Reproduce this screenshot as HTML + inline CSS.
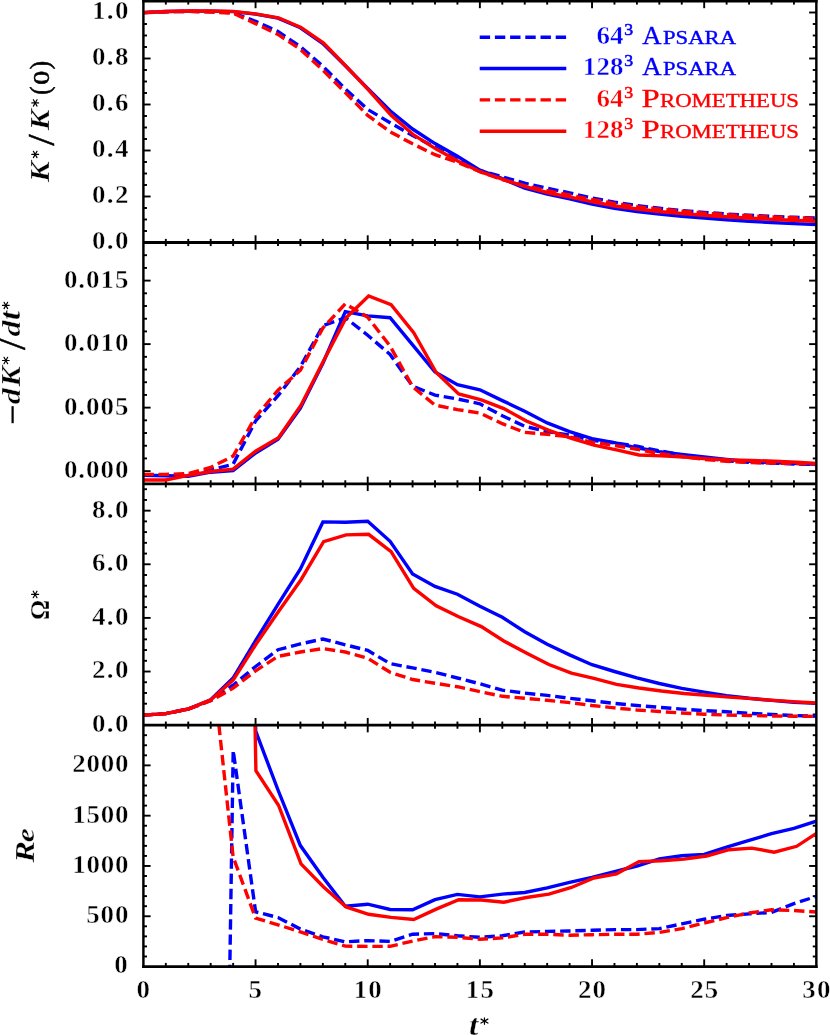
<!DOCTYPE html>
<html><head><meta charset="utf-8"><title>TGV</title>
<style>html,body{margin:0;padding:0;background:#fff;}svg{display:block;will-change:transform;}text{font-family:"Liberation Serif",serif;}</style></head><body>
<svg width="830" height="1035" viewBox="0 0 830 1035">
<rect x="0" y="0" width="830" height="1035" fill="#ffffff"/>
<defs>
<clipPath id="c1"><rect x="143.4" y="1.0" width="673.0" height="241.5"/></clipPath>
<clipPath id="c2"><rect x="143.4" y="242.5" width="673.0" height="241.4"/></clipPath>
<clipPath id="c3"><rect x="143.4" y="483.9" width="673.0" height="241.3"/></clipPath>
<clipPath id="c4"><rect x="143.4" y="725.1" width="673.0" height="241.4"/></clipPath>
</defs>
<g><line x1="165.83" y1="1.00" x2="165.83" y2="4.60" stroke="#000" stroke-width="1.90"/><line x1="188.26" y1="1.00" x2="188.26" y2="4.60" stroke="#000" stroke-width="1.90"/><line x1="210.69" y1="1.00" x2="210.69" y2="4.60" stroke="#000" stroke-width="1.90"/><line x1="233.13" y1="1.00" x2="233.13" y2="4.60" stroke="#000" stroke-width="1.90"/><line x1="255.56" y1="1.00" x2="255.56" y2="8.20" stroke="#000" stroke-width="1.90"/><line x1="277.99" y1="1.00" x2="277.99" y2="4.60" stroke="#000" stroke-width="1.90"/><line x1="300.42" y1="1.00" x2="300.42" y2="4.60" stroke="#000" stroke-width="1.90"/><line x1="322.85" y1="1.00" x2="322.85" y2="4.60" stroke="#000" stroke-width="1.90"/><line x1="345.29" y1="1.00" x2="345.29" y2="4.60" stroke="#000" stroke-width="1.90"/><line x1="367.72" y1="1.00" x2="367.72" y2="8.20" stroke="#000" stroke-width="1.90"/><line x1="390.15" y1="1.00" x2="390.15" y2="4.60" stroke="#000" stroke-width="1.90"/><line x1="412.58" y1="1.00" x2="412.58" y2="4.60" stroke="#000" stroke-width="1.90"/><line x1="435.01" y1="1.00" x2="435.01" y2="4.60" stroke="#000" stroke-width="1.90"/><line x1="457.44" y1="1.00" x2="457.44" y2="4.60" stroke="#000" stroke-width="1.90"/><line x1="479.88" y1="1.00" x2="479.88" y2="8.20" stroke="#000" stroke-width="1.90"/><line x1="502.31" y1="1.00" x2="502.31" y2="4.60" stroke="#000" stroke-width="1.90"/><line x1="524.74" y1="1.00" x2="524.74" y2="4.60" stroke="#000" stroke-width="1.90"/><line x1="547.17" y1="1.00" x2="547.17" y2="4.60" stroke="#000" stroke-width="1.90"/><line x1="569.60" y1="1.00" x2="569.60" y2="4.60" stroke="#000" stroke-width="1.90"/><line x1="592.03" y1="1.00" x2="592.03" y2="8.20" stroke="#000" stroke-width="1.90"/><line x1="614.47" y1="1.00" x2="614.47" y2="4.60" stroke="#000" stroke-width="1.90"/><line x1="636.90" y1="1.00" x2="636.90" y2="4.60" stroke="#000" stroke-width="1.90"/><line x1="659.33" y1="1.00" x2="659.33" y2="4.60" stroke="#000" stroke-width="1.90"/><line x1="681.76" y1="1.00" x2="681.76" y2="4.60" stroke="#000" stroke-width="1.90"/><line x1="704.19" y1="1.00" x2="704.19" y2="8.20" stroke="#000" stroke-width="1.90"/><line x1="726.62" y1="1.00" x2="726.62" y2="4.60" stroke="#000" stroke-width="1.90"/><line x1="749.06" y1="1.00" x2="749.06" y2="4.60" stroke="#000" stroke-width="1.90"/><line x1="771.49" y1="1.00" x2="771.49" y2="4.60" stroke="#000" stroke-width="1.90"/><line x1="793.92" y1="1.00" x2="793.92" y2="4.60" stroke="#000" stroke-width="1.90"/><line x1="165.83" y1="238.90" x2="165.83" y2="246.10" stroke="#000" stroke-width="1.90"/><line x1="188.26" y1="238.90" x2="188.26" y2="246.10" stroke="#000" stroke-width="1.90"/><line x1="210.69" y1="238.90" x2="210.69" y2="246.10" stroke="#000" stroke-width="1.90"/><line x1="233.13" y1="238.90" x2="233.13" y2="246.10" stroke="#000" stroke-width="1.90"/><line x1="255.56" y1="235.30" x2="255.56" y2="249.70" stroke="#000" stroke-width="1.90"/><line x1="277.99" y1="238.90" x2="277.99" y2="246.10" stroke="#000" stroke-width="1.90"/><line x1="300.42" y1="238.90" x2="300.42" y2="246.10" stroke="#000" stroke-width="1.90"/><line x1="322.85" y1="238.90" x2="322.85" y2="246.10" stroke="#000" stroke-width="1.90"/><line x1="345.29" y1="238.90" x2="345.29" y2="246.10" stroke="#000" stroke-width="1.90"/><line x1="367.72" y1="235.30" x2="367.72" y2="249.70" stroke="#000" stroke-width="1.90"/><line x1="390.15" y1="238.90" x2="390.15" y2="246.10" stroke="#000" stroke-width="1.90"/><line x1="412.58" y1="238.90" x2="412.58" y2="246.10" stroke="#000" stroke-width="1.90"/><line x1="435.01" y1="238.90" x2="435.01" y2="246.10" stroke="#000" stroke-width="1.90"/><line x1="457.44" y1="238.90" x2="457.44" y2="246.10" stroke="#000" stroke-width="1.90"/><line x1="479.88" y1="235.30" x2="479.88" y2="249.70" stroke="#000" stroke-width="1.90"/><line x1="502.31" y1="238.90" x2="502.31" y2="246.10" stroke="#000" stroke-width="1.90"/><line x1="524.74" y1="238.90" x2="524.74" y2="246.10" stroke="#000" stroke-width="1.90"/><line x1="547.17" y1="238.90" x2="547.17" y2="246.10" stroke="#000" stroke-width="1.90"/><line x1="569.60" y1="238.90" x2="569.60" y2="246.10" stroke="#000" stroke-width="1.90"/><line x1="592.03" y1="235.30" x2="592.03" y2="249.70" stroke="#000" stroke-width="1.90"/><line x1="614.47" y1="238.90" x2="614.47" y2="246.10" stroke="#000" stroke-width="1.90"/><line x1="636.90" y1="238.90" x2="636.90" y2="246.10" stroke="#000" stroke-width="1.90"/><line x1="659.33" y1="238.90" x2="659.33" y2="246.10" stroke="#000" stroke-width="1.90"/><line x1="681.76" y1="238.90" x2="681.76" y2="246.10" stroke="#000" stroke-width="1.90"/><line x1="704.19" y1="235.30" x2="704.19" y2="249.70" stroke="#000" stroke-width="1.90"/><line x1="726.62" y1="238.90" x2="726.62" y2="246.10" stroke="#000" stroke-width="1.90"/><line x1="749.06" y1="238.90" x2="749.06" y2="246.10" stroke="#000" stroke-width="1.90"/><line x1="771.49" y1="238.90" x2="771.49" y2="246.10" stroke="#000" stroke-width="1.90"/><line x1="793.92" y1="238.90" x2="793.92" y2="246.10" stroke="#000" stroke-width="1.90"/><line x1="165.83" y1="480.25" x2="165.83" y2="487.45" stroke="#000" stroke-width="1.90"/><line x1="188.26" y1="480.25" x2="188.26" y2="487.45" stroke="#000" stroke-width="1.90"/><line x1="210.69" y1="480.25" x2="210.69" y2="487.45" stroke="#000" stroke-width="1.90"/><line x1="233.13" y1="480.25" x2="233.13" y2="487.45" stroke="#000" stroke-width="1.90"/><line x1="255.56" y1="476.65" x2="255.56" y2="491.05" stroke="#000" stroke-width="1.90"/><line x1="277.99" y1="480.25" x2="277.99" y2="487.45" stroke="#000" stroke-width="1.90"/><line x1="300.42" y1="480.25" x2="300.42" y2="487.45" stroke="#000" stroke-width="1.90"/><line x1="322.85" y1="480.25" x2="322.85" y2="487.45" stroke="#000" stroke-width="1.90"/><line x1="345.29" y1="480.25" x2="345.29" y2="487.45" stroke="#000" stroke-width="1.90"/><line x1="367.72" y1="476.65" x2="367.72" y2="491.05" stroke="#000" stroke-width="1.90"/><line x1="390.15" y1="480.25" x2="390.15" y2="487.45" stroke="#000" stroke-width="1.90"/><line x1="412.58" y1="480.25" x2="412.58" y2="487.45" stroke="#000" stroke-width="1.90"/><line x1="435.01" y1="480.25" x2="435.01" y2="487.45" stroke="#000" stroke-width="1.90"/><line x1="457.44" y1="480.25" x2="457.44" y2="487.45" stroke="#000" stroke-width="1.90"/><line x1="479.88" y1="476.65" x2="479.88" y2="491.05" stroke="#000" stroke-width="1.90"/><line x1="502.31" y1="480.25" x2="502.31" y2="487.45" stroke="#000" stroke-width="1.90"/><line x1="524.74" y1="480.25" x2="524.74" y2="487.45" stroke="#000" stroke-width="1.90"/><line x1="547.17" y1="480.25" x2="547.17" y2="487.45" stroke="#000" stroke-width="1.90"/><line x1="569.60" y1="480.25" x2="569.60" y2="487.45" stroke="#000" stroke-width="1.90"/><line x1="592.03" y1="476.65" x2="592.03" y2="491.05" stroke="#000" stroke-width="1.90"/><line x1="614.47" y1="480.25" x2="614.47" y2="487.45" stroke="#000" stroke-width="1.90"/><line x1="636.90" y1="480.25" x2="636.90" y2="487.45" stroke="#000" stroke-width="1.90"/><line x1="659.33" y1="480.25" x2="659.33" y2="487.45" stroke="#000" stroke-width="1.90"/><line x1="681.76" y1="480.25" x2="681.76" y2="487.45" stroke="#000" stroke-width="1.90"/><line x1="704.19" y1="476.65" x2="704.19" y2="491.05" stroke="#000" stroke-width="1.90"/><line x1="726.62" y1="480.25" x2="726.62" y2="487.45" stroke="#000" stroke-width="1.90"/><line x1="749.06" y1="480.25" x2="749.06" y2="487.45" stroke="#000" stroke-width="1.90"/><line x1="771.49" y1="480.25" x2="771.49" y2="487.45" stroke="#000" stroke-width="1.90"/><line x1="793.92" y1="480.25" x2="793.92" y2="487.45" stroke="#000" stroke-width="1.90"/><line x1="165.83" y1="721.55" x2="165.83" y2="728.75" stroke="#000" stroke-width="1.90"/><line x1="188.26" y1="721.55" x2="188.26" y2="728.75" stroke="#000" stroke-width="1.90"/><line x1="210.69" y1="721.55" x2="210.69" y2="728.75" stroke="#000" stroke-width="1.90"/><line x1="233.13" y1="721.55" x2="233.13" y2="728.75" stroke="#000" stroke-width="1.90"/><line x1="255.56" y1="717.95" x2="255.56" y2="732.35" stroke="#000" stroke-width="1.90"/><line x1="277.99" y1="721.55" x2="277.99" y2="728.75" stroke="#000" stroke-width="1.90"/><line x1="300.42" y1="721.55" x2="300.42" y2="728.75" stroke="#000" stroke-width="1.90"/><line x1="322.85" y1="721.55" x2="322.85" y2="728.75" stroke="#000" stroke-width="1.90"/><line x1="345.29" y1="721.55" x2="345.29" y2="728.75" stroke="#000" stroke-width="1.90"/><line x1="367.72" y1="717.95" x2="367.72" y2="732.35" stroke="#000" stroke-width="1.90"/><line x1="390.15" y1="721.55" x2="390.15" y2="728.75" stroke="#000" stroke-width="1.90"/><line x1="412.58" y1="721.55" x2="412.58" y2="728.75" stroke="#000" stroke-width="1.90"/><line x1="435.01" y1="721.55" x2="435.01" y2="728.75" stroke="#000" stroke-width="1.90"/><line x1="457.44" y1="721.55" x2="457.44" y2="728.75" stroke="#000" stroke-width="1.90"/><line x1="479.88" y1="717.95" x2="479.88" y2="732.35" stroke="#000" stroke-width="1.90"/><line x1="502.31" y1="721.55" x2="502.31" y2="728.75" stroke="#000" stroke-width="1.90"/><line x1="524.74" y1="721.55" x2="524.74" y2="728.75" stroke="#000" stroke-width="1.90"/><line x1="547.17" y1="721.55" x2="547.17" y2="728.75" stroke="#000" stroke-width="1.90"/><line x1="569.60" y1="721.55" x2="569.60" y2="728.75" stroke="#000" stroke-width="1.90"/><line x1="592.03" y1="717.95" x2="592.03" y2="732.35" stroke="#000" stroke-width="1.90"/><line x1="614.47" y1="721.55" x2="614.47" y2="728.75" stroke="#000" stroke-width="1.90"/><line x1="636.90" y1="721.55" x2="636.90" y2="728.75" stroke="#000" stroke-width="1.90"/><line x1="659.33" y1="721.55" x2="659.33" y2="728.75" stroke="#000" stroke-width="1.90"/><line x1="681.76" y1="721.55" x2="681.76" y2="728.75" stroke="#000" stroke-width="1.90"/><line x1="704.19" y1="717.95" x2="704.19" y2="732.35" stroke="#000" stroke-width="1.90"/><line x1="726.62" y1="721.55" x2="726.62" y2="728.75" stroke="#000" stroke-width="1.90"/><line x1="749.06" y1="721.55" x2="749.06" y2="728.75" stroke="#000" stroke-width="1.90"/><line x1="771.49" y1="721.55" x2="771.49" y2="728.75" stroke="#000" stroke-width="1.90"/><line x1="793.92" y1="721.55" x2="793.92" y2="728.75" stroke="#000" stroke-width="1.90"/><line x1="165.83" y1="962.95" x2="165.83" y2="966.55" stroke="#000" stroke-width="1.90"/><line x1="188.26" y1="962.95" x2="188.26" y2="966.55" stroke="#000" stroke-width="1.90"/><line x1="210.69" y1="962.95" x2="210.69" y2="966.55" stroke="#000" stroke-width="1.90"/><line x1="233.13" y1="962.95" x2="233.13" y2="966.55" stroke="#000" stroke-width="1.90"/><line x1="255.56" y1="959.35" x2="255.56" y2="966.55" stroke="#000" stroke-width="1.90"/><line x1="277.99" y1="962.95" x2="277.99" y2="966.55" stroke="#000" stroke-width="1.90"/><line x1="300.42" y1="962.95" x2="300.42" y2="966.55" stroke="#000" stroke-width="1.90"/><line x1="322.85" y1="962.95" x2="322.85" y2="966.55" stroke="#000" stroke-width="1.90"/><line x1="345.29" y1="962.95" x2="345.29" y2="966.55" stroke="#000" stroke-width="1.90"/><line x1="367.72" y1="959.35" x2="367.72" y2="966.55" stroke="#000" stroke-width="1.90"/><line x1="390.15" y1="962.95" x2="390.15" y2="966.55" stroke="#000" stroke-width="1.90"/><line x1="412.58" y1="962.95" x2="412.58" y2="966.55" stroke="#000" stroke-width="1.90"/><line x1="435.01" y1="962.95" x2="435.01" y2="966.55" stroke="#000" stroke-width="1.90"/><line x1="457.44" y1="962.95" x2="457.44" y2="966.55" stroke="#000" stroke-width="1.90"/><line x1="479.88" y1="959.35" x2="479.88" y2="966.55" stroke="#000" stroke-width="1.90"/><line x1="502.31" y1="962.95" x2="502.31" y2="966.55" stroke="#000" stroke-width="1.90"/><line x1="524.74" y1="962.95" x2="524.74" y2="966.55" stroke="#000" stroke-width="1.90"/><line x1="547.17" y1="962.95" x2="547.17" y2="966.55" stroke="#000" stroke-width="1.90"/><line x1="569.60" y1="962.95" x2="569.60" y2="966.55" stroke="#000" stroke-width="1.90"/><line x1="592.03" y1="959.35" x2="592.03" y2="966.55" stroke="#000" stroke-width="1.90"/><line x1="614.47" y1="962.95" x2="614.47" y2="966.55" stroke="#000" stroke-width="1.90"/><line x1="636.90" y1="962.95" x2="636.90" y2="966.55" stroke="#000" stroke-width="1.90"/><line x1="659.33" y1="962.95" x2="659.33" y2="966.55" stroke="#000" stroke-width="1.90"/><line x1="681.76" y1="962.95" x2="681.76" y2="966.55" stroke="#000" stroke-width="1.90"/><line x1="704.19" y1="959.35" x2="704.19" y2="966.55" stroke="#000" stroke-width="1.90"/><line x1="726.62" y1="962.95" x2="726.62" y2="966.55" stroke="#000" stroke-width="1.90"/><line x1="749.06" y1="962.95" x2="749.06" y2="966.55" stroke="#000" stroke-width="1.90"/><line x1="771.49" y1="962.95" x2="771.49" y2="966.55" stroke="#000" stroke-width="1.90"/><line x1="793.92" y1="962.95" x2="793.92" y2="966.55" stroke="#000" stroke-width="1.90"/><line x1="143.40" y1="231.00" x2="147.00" y2="231.00" stroke="#000" stroke-width="1.90"/><line x1="812.75" y1="231.00" x2="816.35" y2="231.00" stroke="#000" stroke-width="1.90"/><line x1="143.40" y1="219.50" x2="147.00" y2="219.50" stroke="#000" stroke-width="1.90"/><line x1="812.75" y1="219.50" x2="816.35" y2="219.50" stroke="#000" stroke-width="1.90"/><line x1="143.40" y1="208.00" x2="147.00" y2="208.00" stroke="#000" stroke-width="1.90"/><line x1="812.75" y1="208.00" x2="816.35" y2="208.00" stroke="#000" stroke-width="1.90"/><line x1="143.40" y1="196.50" x2="150.60" y2="196.50" stroke="#000" stroke-width="1.90"/><line x1="809.15" y1="196.50" x2="816.35" y2="196.50" stroke="#000" stroke-width="1.90"/><line x1="143.40" y1="185.00" x2="147.00" y2="185.00" stroke="#000" stroke-width="1.90"/><line x1="812.75" y1="185.00" x2="816.35" y2="185.00" stroke="#000" stroke-width="1.90"/><line x1="143.40" y1="173.50" x2="147.00" y2="173.50" stroke="#000" stroke-width="1.90"/><line x1="812.75" y1="173.50" x2="816.35" y2="173.50" stroke="#000" stroke-width="1.90"/><line x1="143.40" y1="162.00" x2="147.00" y2="162.00" stroke="#000" stroke-width="1.90"/><line x1="812.75" y1="162.00" x2="816.35" y2="162.00" stroke="#000" stroke-width="1.90"/><line x1="143.40" y1="150.50" x2="150.60" y2="150.50" stroke="#000" stroke-width="1.90"/><line x1="809.15" y1="150.50" x2="816.35" y2="150.50" stroke="#000" stroke-width="1.90"/><line x1="143.40" y1="139.00" x2="147.00" y2="139.00" stroke="#000" stroke-width="1.90"/><line x1="812.75" y1="139.00" x2="816.35" y2="139.00" stroke="#000" stroke-width="1.90"/><line x1="143.40" y1="127.50" x2="147.00" y2="127.50" stroke="#000" stroke-width="1.90"/><line x1="812.75" y1="127.50" x2="816.35" y2="127.50" stroke="#000" stroke-width="1.90"/><line x1="143.40" y1="116.00" x2="147.00" y2="116.00" stroke="#000" stroke-width="1.90"/><line x1="812.75" y1="116.00" x2="816.35" y2="116.00" stroke="#000" stroke-width="1.90"/><line x1="143.40" y1="104.50" x2="150.60" y2="104.50" stroke="#000" stroke-width="1.90"/><line x1="809.15" y1="104.50" x2="816.35" y2="104.50" stroke="#000" stroke-width="1.90"/><line x1="143.40" y1="93.00" x2="147.00" y2="93.00" stroke="#000" stroke-width="1.90"/><line x1="812.75" y1="93.00" x2="816.35" y2="93.00" stroke="#000" stroke-width="1.90"/><line x1="143.40" y1="81.50" x2="147.00" y2="81.50" stroke="#000" stroke-width="1.90"/><line x1="812.75" y1="81.50" x2="816.35" y2="81.50" stroke="#000" stroke-width="1.90"/><line x1="143.40" y1="70.00" x2="147.00" y2="70.00" stroke="#000" stroke-width="1.90"/><line x1="812.75" y1="70.00" x2="816.35" y2="70.00" stroke="#000" stroke-width="1.90"/><line x1="143.40" y1="58.50" x2="150.60" y2="58.50" stroke="#000" stroke-width="1.90"/><line x1="809.15" y1="58.50" x2="816.35" y2="58.50" stroke="#000" stroke-width="1.90"/><line x1="143.40" y1="47.00" x2="147.00" y2="47.00" stroke="#000" stroke-width="1.90"/><line x1="812.75" y1="47.00" x2="816.35" y2="47.00" stroke="#000" stroke-width="1.90"/><line x1="143.40" y1="35.50" x2="147.00" y2="35.50" stroke="#000" stroke-width="1.90"/><line x1="812.75" y1="35.50" x2="816.35" y2="35.50" stroke="#000" stroke-width="1.90"/><line x1="143.40" y1="24.00" x2="147.00" y2="24.00" stroke="#000" stroke-width="1.90"/><line x1="812.75" y1="24.00" x2="816.35" y2="24.00" stroke="#000" stroke-width="1.90"/><line x1="143.40" y1="12.50" x2="150.60" y2="12.50" stroke="#000" stroke-width="1.90"/><line x1="809.15" y1="12.50" x2="816.35" y2="12.50" stroke="#000" stroke-width="1.90"/><line x1="143.40" y1="471.15" x2="150.60" y2="471.15" stroke="#000" stroke-width="1.90"/><line x1="809.15" y1="471.15" x2="816.35" y2="471.15" stroke="#000" stroke-width="1.90"/><line x1="143.40" y1="458.44" x2="147.00" y2="458.44" stroke="#000" stroke-width="1.90"/><line x1="812.75" y1="458.44" x2="816.35" y2="458.44" stroke="#000" stroke-width="1.90"/><line x1="143.40" y1="445.74" x2="147.00" y2="445.74" stroke="#000" stroke-width="1.90"/><line x1="812.75" y1="445.74" x2="816.35" y2="445.74" stroke="#000" stroke-width="1.90"/><line x1="143.40" y1="433.04" x2="147.00" y2="433.04" stroke="#000" stroke-width="1.90"/><line x1="812.75" y1="433.04" x2="816.35" y2="433.04" stroke="#000" stroke-width="1.90"/><line x1="143.40" y1="420.34" x2="147.00" y2="420.34" stroke="#000" stroke-width="1.90"/><line x1="812.75" y1="420.34" x2="816.35" y2="420.34" stroke="#000" stroke-width="1.90"/><line x1="143.40" y1="407.63" x2="150.60" y2="407.63" stroke="#000" stroke-width="1.90"/><line x1="809.15" y1="407.63" x2="816.35" y2="407.63" stroke="#000" stroke-width="1.90"/><line x1="143.40" y1="394.93" x2="147.00" y2="394.93" stroke="#000" stroke-width="1.90"/><line x1="812.75" y1="394.93" x2="816.35" y2="394.93" stroke="#000" stroke-width="1.90"/><line x1="143.40" y1="382.23" x2="147.00" y2="382.23" stroke="#000" stroke-width="1.90"/><line x1="812.75" y1="382.23" x2="816.35" y2="382.23" stroke="#000" stroke-width="1.90"/><line x1="143.40" y1="369.53" x2="147.00" y2="369.53" stroke="#000" stroke-width="1.90"/><line x1="812.75" y1="369.53" x2="816.35" y2="369.53" stroke="#000" stroke-width="1.90"/><line x1="143.40" y1="356.82" x2="147.00" y2="356.82" stroke="#000" stroke-width="1.90"/><line x1="812.75" y1="356.82" x2="816.35" y2="356.82" stroke="#000" stroke-width="1.90"/><line x1="143.40" y1="344.12" x2="150.60" y2="344.12" stroke="#000" stroke-width="1.90"/><line x1="809.15" y1="344.12" x2="816.35" y2="344.12" stroke="#000" stroke-width="1.90"/><line x1="143.40" y1="331.42" x2="147.00" y2="331.42" stroke="#000" stroke-width="1.90"/><line x1="812.75" y1="331.42" x2="816.35" y2="331.42" stroke="#000" stroke-width="1.90"/><line x1="143.40" y1="318.72" x2="147.00" y2="318.72" stroke="#000" stroke-width="1.90"/><line x1="812.75" y1="318.72" x2="816.35" y2="318.72" stroke="#000" stroke-width="1.90"/><line x1="143.40" y1="306.01" x2="147.00" y2="306.01" stroke="#000" stroke-width="1.90"/><line x1="812.75" y1="306.01" x2="816.35" y2="306.01" stroke="#000" stroke-width="1.90"/><line x1="143.40" y1="293.31" x2="147.00" y2="293.31" stroke="#000" stroke-width="1.90"/><line x1="812.75" y1="293.31" x2="816.35" y2="293.31" stroke="#000" stroke-width="1.90"/><line x1="143.40" y1="280.61" x2="150.60" y2="280.61" stroke="#000" stroke-width="1.90"/><line x1="809.15" y1="280.61" x2="816.35" y2="280.61" stroke="#000" stroke-width="1.90"/><line x1="143.40" y1="267.91" x2="147.00" y2="267.91" stroke="#000" stroke-width="1.90"/><line x1="812.75" y1="267.91" x2="816.35" y2="267.91" stroke="#000" stroke-width="1.90"/><line x1="143.40" y1="255.20" x2="147.00" y2="255.20" stroke="#000" stroke-width="1.90"/><line x1="812.75" y1="255.20" x2="816.35" y2="255.20" stroke="#000" stroke-width="1.90"/><line x1="143.40" y1="714.43" x2="147.00" y2="714.43" stroke="#000" stroke-width="1.90"/><line x1="812.75" y1="714.43" x2="816.35" y2="714.43" stroke="#000" stroke-width="1.90"/><line x1="143.40" y1="703.70" x2="147.00" y2="703.70" stroke="#000" stroke-width="1.90"/><line x1="812.75" y1="703.70" x2="816.35" y2="703.70" stroke="#000" stroke-width="1.90"/><line x1="143.40" y1="692.98" x2="147.00" y2="692.98" stroke="#000" stroke-width="1.90"/><line x1="812.75" y1="692.98" x2="816.35" y2="692.98" stroke="#000" stroke-width="1.90"/><line x1="143.40" y1="682.25" x2="147.00" y2="682.25" stroke="#000" stroke-width="1.90"/><line x1="812.75" y1="682.25" x2="816.35" y2="682.25" stroke="#000" stroke-width="1.90"/><line x1="143.40" y1="671.53" x2="150.60" y2="671.53" stroke="#000" stroke-width="1.90"/><line x1="809.15" y1="671.53" x2="816.35" y2="671.53" stroke="#000" stroke-width="1.90"/><line x1="143.40" y1="660.80" x2="147.00" y2="660.80" stroke="#000" stroke-width="1.90"/><line x1="812.75" y1="660.80" x2="816.35" y2="660.80" stroke="#000" stroke-width="1.90"/><line x1="143.40" y1="650.08" x2="147.00" y2="650.08" stroke="#000" stroke-width="1.90"/><line x1="812.75" y1="650.08" x2="816.35" y2="650.08" stroke="#000" stroke-width="1.90"/><line x1="143.40" y1="639.35" x2="147.00" y2="639.35" stroke="#000" stroke-width="1.90"/><line x1="812.75" y1="639.35" x2="816.35" y2="639.35" stroke="#000" stroke-width="1.90"/><line x1="143.40" y1="628.63" x2="147.00" y2="628.63" stroke="#000" stroke-width="1.90"/><line x1="812.75" y1="628.63" x2="816.35" y2="628.63" stroke="#000" stroke-width="1.90"/><line x1="143.40" y1="617.91" x2="150.60" y2="617.91" stroke="#000" stroke-width="1.90"/><line x1="809.15" y1="617.91" x2="816.35" y2="617.91" stroke="#000" stroke-width="1.90"/><line x1="143.40" y1="607.18" x2="147.00" y2="607.18" stroke="#000" stroke-width="1.90"/><line x1="812.75" y1="607.18" x2="816.35" y2="607.18" stroke="#000" stroke-width="1.90"/><line x1="143.40" y1="596.46" x2="147.00" y2="596.46" stroke="#000" stroke-width="1.90"/><line x1="812.75" y1="596.46" x2="816.35" y2="596.46" stroke="#000" stroke-width="1.90"/><line x1="143.40" y1="585.73" x2="147.00" y2="585.73" stroke="#000" stroke-width="1.90"/><line x1="812.75" y1="585.73" x2="816.35" y2="585.73" stroke="#000" stroke-width="1.90"/><line x1="143.40" y1="575.01" x2="147.00" y2="575.01" stroke="#000" stroke-width="1.90"/><line x1="812.75" y1="575.01" x2="816.35" y2="575.01" stroke="#000" stroke-width="1.90"/><line x1="143.40" y1="564.28" x2="150.60" y2="564.28" stroke="#000" stroke-width="1.90"/><line x1="809.15" y1="564.28" x2="816.35" y2="564.28" stroke="#000" stroke-width="1.90"/><line x1="143.40" y1="553.56" x2="147.00" y2="553.56" stroke="#000" stroke-width="1.90"/><line x1="812.75" y1="553.56" x2="816.35" y2="553.56" stroke="#000" stroke-width="1.90"/><line x1="143.40" y1="542.83" x2="147.00" y2="542.83" stroke="#000" stroke-width="1.90"/><line x1="812.75" y1="542.83" x2="816.35" y2="542.83" stroke="#000" stroke-width="1.90"/><line x1="143.40" y1="532.11" x2="147.00" y2="532.11" stroke="#000" stroke-width="1.90"/><line x1="812.75" y1="532.11" x2="816.35" y2="532.11" stroke="#000" stroke-width="1.90"/><line x1="143.40" y1="521.39" x2="147.00" y2="521.39" stroke="#000" stroke-width="1.90"/><line x1="812.75" y1="521.39" x2="816.35" y2="521.39" stroke="#000" stroke-width="1.90"/><line x1="143.40" y1="510.66" x2="150.60" y2="510.66" stroke="#000" stroke-width="1.90"/><line x1="809.15" y1="510.66" x2="816.35" y2="510.66" stroke="#000" stroke-width="1.90"/><line x1="143.40" y1="499.94" x2="147.00" y2="499.94" stroke="#000" stroke-width="1.90"/><line x1="812.75" y1="499.94" x2="816.35" y2="499.94" stroke="#000" stroke-width="1.90"/><line x1="143.40" y1="489.21" x2="147.00" y2="489.21" stroke="#000" stroke-width="1.90"/><line x1="812.75" y1="489.21" x2="816.35" y2="489.21" stroke="#000" stroke-width="1.90"/><line x1="143.40" y1="956.49" x2="147.00" y2="956.49" stroke="#000" stroke-width="1.90"/><line x1="812.75" y1="956.49" x2="816.35" y2="956.49" stroke="#000" stroke-width="1.90"/><line x1="143.40" y1="946.43" x2="147.00" y2="946.43" stroke="#000" stroke-width="1.90"/><line x1="812.75" y1="946.43" x2="816.35" y2="946.43" stroke="#000" stroke-width="1.90"/><line x1="143.40" y1="936.38" x2="147.00" y2="936.38" stroke="#000" stroke-width="1.90"/><line x1="812.75" y1="936.38" x2="816.35" y2="936.38" stroke="#000" stroke-width="1.90"/><line x1="143.40" y1="926.32" x2="147.00" y2="926.32" stroke="#000" stroke-width="1.90"/><line x1="812.75" y1="926.32" x2="816.35" y2="926.32" stroke="#000" stroke-width="1.90"/><line x1="143.40" y1="916.26" x2="150.60" y2="916.26" stroke="#000" stroke-width="1.90"/><line x1="809.15" y1="916.26" x2="816.35" y2="916.26" stroke="#000" stroke-width="1.90"/><line x1="143.40" y1="906.20" x2="147.00" y2="906.20" stroke="#000" stroke-width="1.90"/><line x1="812.75" y1="906.20" x2="816.35" y2="906.20" stroke="#000" stroke-width="1.90"/><line x1="143.40" y1="896.14" x2="147.00" y2="896.14" stroke="#000" stroke-width="1.90"/><line x1="812.75" y1="896.14" x2="816.35" y2="896.14" stroke="#000" stroke-width="1.90"/><line x1="143.40" y1="886.08" x2="147.00" y2="886.08" stroke="#000" stroke-width="1.90"/><line x1="812.75" y1="886.08" x2="816.35" y2="886.08" stroke="#000" stroke-width="1.90"/><line x1="143.40" y1="876.02" x2="147.00" y2="876.02" stroke="#000" stroke-width="1.90"/><line x1="812.75" y1="876.02" x2="816.35" y2="876.02" stroke="#000" stroke-width="1.90"/><line x1="143.40" y1="865.97" x2="150.60" y2="865.97" stroke="#000" stroke-width="1.90"/><line x1="809.15" y1="865.97" x2="816.35" y2="865.97" stroke="#000" stroke-width="1.90"/><line x1="143.40" y1="855.91" x2="147.00" y2="855.91" stroke="#000" stroke-width="1.90"/><line x1="812.75" y1="855.91" x2="816.35" y2="855.91" stroke="#000" stroke-width="1.90"/><line x1="143.40" y1="845.85" x2="147.00" y2="845.85" stroke="#000" stroke-width="1.90"/><line x1="812.75" y1="845.85" x2="816.35" y2="845.85" stroke="#000" stroke-width="1.90"/><line x1="143.40" y1="835.79" x2="147.00" y2="835.79" stroke="#000" stroke-width="1.90"/><line x1="812.75" y1="835.79" x2="816.35" y2="835.79" stroke="#000" stroke-width="1.90"/><line x1="143.40" y1="825.73" x2="147.00" y2="825.73" stroke="#000" stroke-width="1.90"/><line x1="812.75" y1="825.73" x2="816.35" y2="825.73" stroke="#000" stroke-width="1.90"/><line x1="143.40" y1="815.67" x2="150.60" y2="815.67" stroke="#000" stroke-width="1.90"/><line x1="809.15" y1="815.67" x2="816.35" y2="815.67" stroke="#000" stroke-width="1.90"/><line x1="143.40" y1="805.62" x2="147.00" y2="805.62" stroke="#000" stroke-width="1.90"/><line x1="812.75" y1="805.62" x2="816.35" y2="805.62" stroke="#000" stroke-width="1.90"/><line x1="143.40" y1="795.56" x2="147.00" y2="795.56" stroke="#000" stroke-width="1.90"/><line x1="812.75" y1="795.56" x2="816.35" y2="795.56" stroke="#000" stroke-width="1.90"/><line x1="143.40" y1="785.50" x2="147.00" y2="785.50" stroke="#000" stroke-width="1.90"/><line x1="812.75" y1="785.50" x2="816.35" y2="785.50" stroke="#000" stroke-width="1.90"/><line x1="143.40" y1="775.44" x2="147.00" y2="775.44" stroke="#000" stroke-width="1.90"/><line x1="812.75" y1="775.44" x2="816.35" y2="775.44" stroke="#000" stroke-width="1.90"/><line x1="143.40" y1="765.38" x2="150.60" y2="765.38" stroke="#000" stroke-width="1.90"/><line x1="809.15" y1="765.38" x2="816.35" y2="765.38" stroke="#000" stroke-width="1.90"/><line x1="143.40" y1="755.33" x2="147.00" y2="755.33" stroke="#000" stroke-width="1.90"/><line x1="812.75" y1="755.33" x2="816.35" y2="755.33" stroke="#000" stroke-width="1.90"/><line x1="143.40" y1="745.27" x2="147.00" y2="745.27" stroke="#000" stroke-width="1.90"/><line x1="812.75" y1="745.27" x2="816.35" y2="745.27" stroke="#000" stroke-width="1.90"/><line x1="143.40" y1="735.21" x2="147.00" y2="735.21" stroke="#000" stroke-width="1.90"/><line x1="812.75" y1="735.21" x2="816.35" y2="735.21" stroke="#000" stroke-width="1.90"/></g>
<polyline points="143.4,12.6 165.8,11.7 188.3,11.4 210.7,11.7 233.1,12.7 255.6,21.4 278.0,31.5 300.4,46.7 322.9,66.2 345.3,88.9 367.7,109.4 390.1,122.7 412.6,135.5 435.0,147.2 457.4,159.7 479.9,170.7 502.3,176.8 524.7,183.2 547.2,188.2 569.6,192.9 592.0,198.0 614.5,202.2 636.9,205.5 659.3,208.2 681.8,210.5 704.2,212.4 726.6,214.0 749.1,215.3 771.5,216.4 793.9,217.3 816.4,218.1" fill="none" stroke="#0000ff" stroke-width="3.40" stroke-linejoin="miter" stroke-linecap="butt" stroke-dasharray="10.4 4.8" clip-path="url(#c1)"/>
<polyline points="143.4,12.6 165.8,11.5 188.3,11.1 210.7,11.1 233.1,11.6 255.6,14.1 278.0,18.1 300.4,27.8 322.9,43.5 345.3,65.7 367.7,88.4 390.1,110.8 412.6,129.0 435.0,143.6 457.4,156.3 479.9,170.2 502.3,178.7 524.7,188.2 547.2,194.2 569.6,198.8 592.0,204.0 614.5,208.4 636.9,211.5 659.3,214.1 681.8,216.2 704.2,218.0 726.6,219.7 749.1,221.2 771.5,222.5 793.9,223.6 816.4,224.5" fill="none" stroke="#0000ff" stroke-width="3.40" stroke-linejoin="miter" stroke-linecap="butt" clip-path="url(#c1)"/>
<polyline points="143.4,12.6 165.8,11.7 188.3,11.4 210.7,12.0 233.1,13.2 255.6,23.6 278.0,34.4 300.4,49.4 322.9,70.2 345.3,92.5 367.7,115.4 390.1,131.8 412.6,143.8 435.0,154.7 457.4,162.2 479.9,171.7 502.3,179.7 524.7,185.7 547.2,190.6 569.6,195.0 592.0,199.5 614.5,203.5 636.9,206.6 659.3,209.1 681.8,211.2 704.2,213.1 726.6,214.6 749.1,215.8 771.5,216.8 793.9,217.7 816.4,218.5" fill="none" stroke="#ff0000" stroke-width="3.40" stroke-linejoin="miter" stroke-linecap="butt" stroke-dasharray="10.4 4.8" clip-path="url(#c1)"/>
<polyline points="143.4,12.6 165.8,11.5 188.3,11.0 210.7,11.0 233.1,11.4 255.6,13.9 278.5,17.8 301.0,27.4 323.6,43.1 346.1,66.2 368.6,90.1 391.1,115.2 413.7,135.0 436.2,149.1 458.7,161.6 481.3,172.2 503.8,179.7 526.3,186.9 548.9,193.0 571.4,197.4 593.9,202.2 616.5,206.2 639.0,209.2 661.5,211.7 684.1,213.8 706.6,215.5 729.1,217.0 751.7,218.3 774.2,219.5 796.7,220.5 819.2,221.4" fill="none" stroke="#ff0000" stroke-width="3.40" stroke-linejoin="miter" stroke-linecap="butt" clip-path="url(#c1)"/>
<polyline points="143.4,474.9 165.8,475.2 188.3,474.2 210.7,469.8 233.1,464.2 255.6,420.9 278.0,395.7 300.4,366.7 322.9,325.7 345.3,317.7 367.7,335.2 390.1,354.5 412.6,386.2 435.0,395.1 457.4,399.0 479.9,403.8 502.3,415.7 524.7,426.3 547.2,431.6 569.6,435.1 592.0,440.4 614.5,442.9 636.9,446.3 659.3,450.7 681.8,455.0 704.2,457.9 726.6,460.8 749.1,462.2 771.5,463.1 793.9,464.0 816.4,464.6" fill="none" stroke="#0000ff" stroke-width="3.40" stroke-linejoin="miter" stroke-linecap="butt" stroke-dasharray="10.4 4.8" clip-path="url(#c2)"/>
<polyline points="143.4,475.2 165.8,475.7 188.3,476.2 210.7,472.2 233.1,470.6 255.6,453.0 278.0,439.2 300.4,408.0 322.9,363.2 345.3,311.6 367.7,315.9 390.1,317.7 412.6,344.9 435.0,372.0 457.4,384.7 479.9,389.8 502.3,400.6 524.7,411.2 547.2,422.9 569.6,431.6 592.0,438.6 614.5,442.6 636.9,447.8 659.3,451.6 681.8,454.4 704.2,457.0 726.6,459.4 749.1,461.4 771.5,462.5 793.9,463.4 816.4,464.3" fill="none" stroke="#0000ff" stroke-width="3.40" stroke-linejoin="miter" stroke-linecap="butt" clip-path="url(#c2)"/>
<polyline points="143.4,474.4 165.8,474.4 188.3,473.5 210.7,467.4 233.1,456.1 255.6,416.8 278.0,390.2 300.4,370.2 322.9,328.0 345.3,303.8 367.7,317.2 390.1,346.1 412.6,386.7 435.0,405.1 457.4,409.6 479.9,413.1 502.3,423.7 524.7,432.4 547.2,434.3 569.6,436.9 592.0,442.2 614.5,445.5 636.9,449.2 659.3,453.6 681.8,456.5 704.2,459.4 726.6,461.4 749.1,462.5 771.5,463.1 793.9,463.4 816.4,464.0" fill="none" stroke="#ff0000" stroke-width="3.40" stroke-linejoin="miter" stroke-linecap="butt" stroke-dasharray="10.4 4.8" clip-path="url(#c2)"/>
<polyline points="143.4,480.0 165.8,480.0 188.3,475.4 210.7,471.5 233.1,469.1 255.6,451.2 278.5,437.8 301.0,405.2 323.6,360.8 346.1,317.7 368.6,296.0 391.1,304.7 413.7,332.7 436.2,372.5 458.7,394.0 481.3,399.8 503.8,408.6 526.3,421.0 548.9,430.3 571.4,438.3 593.9,445.2 616.5,449.8 639.0,455.0 661.5,455.9 684.1,457.0 706.6,458.8 729.1,459.9 751.7,460.5 774.2,461.1 796.7,462.2 819.2,463.7" fill="none" stroke="#ff0000" stroke-width="3.40" stroke-linejoin="miter" stroke-linecap="butt" clip-path="url(#c2)"/>
<polyline points="143.4,715.1 165.8,713.6 188.3,709.0 210.7,700.6 233.1,685.2 255.6,666.5 278.0,649.7 300.4,643.9 322.9,639.0 345.3,644.8 367.7,650.4 390.1,663.6 412.6,667.9 435.0,672.3 457.4,678.0 479.9,683.8 502.3,690.2 524.7,693.1 547.2,695.4 569.6,698.3 592.0,700.8 614.5,703.4 636.9,705.5 659.3,707.3 681.8,709.1 704.2,710.6 726.6,711.8 749.1,713.3 771.5,714.5 793.9,715.5 816.4,716.2" fill="none" stroke="#0000ff" stroke-width="3.40" stroke-linejoin="miter" stroke-linecap="butt" stroke-dasharray="10.4 4.8" clip-path="url(#c3)"/>
<polyline points="143.4,715.1 165.8,713.6 188.3,709.0 210.7,699.7 233.1,678.0 255.6,640.5 278.0,604.3 300.4,569.0 322.9,521.9 345.3,522.2 367.7,521.3 390.1,541.3 412.6,573.9 435.0,586.4 457.4,594.2 479.9,606.3 502.3,617.3 524.7,631.8 547.2,644.2 569.6,654.9 592.0,664.7 614.5,671.5 636.9,677.8 659.3,683.5 681.8,688.3 704.2,692.2 726.6,695.6 749.1,698.3 771.5,700.4 793.9,702.2 816.4,703.4" fill="none" stroke="#0000ff" stroke-width="3.40" stroke-linejoin="miter" stroke-linecap="butt" clip-path="url(#c3)"/>
<polyline points="143.4,715.1 165.8,713.6 188.3,709.0 210.7,700.8 233.1,688.2 255.6,670.8 278.0,656.4 300.4,652.0 322.9,648.6 345.3,652.0 367.7,658.2 390.1,672.3 412.6,679.5 435.0,683.3 457.4,686.7 479.9,691.6 502.3,696.3 524.7,698.3 547.2,700.3 569.6,702.6 592.0,705.5 614.5,707.9 636.9,710.0 659.3,711.5 681.8,713.0 704.2,714.2 726.6,715.1 749.1,715.5 771.5,716.0 793.9,716.2 816.4,716.4" fill="none" stroke="#ff0000" stroke-width="3.40" stroke-linejoin="miter" stroke-linecap="butt" stroke-dasharray="10.4 4.8" clip-path="url(#c3)"/>
<polyline points="143.4,715.1 165.8,713.6 188.3,709.0 210.7,699.9 233.1,680.1 255.6,644.8 278.5,611.5 301.0,579.7 323.6,541.6 346.1,534.9 368.6,534.3 391.1,551.7 413.7,588.4 436.2,605.8 458.7,616.7 481.3,626.6 503.8,641.0 526.3,652.9 548.9,664.5 571.4,673.1 593.9,678.4 616.5,684.4 639.0,688.0 661.5,691.0 684.1,693.5 706.6,695.3 729.1,697.1 751.7,698.6 774.2,700.4 796.7,701.9 819.2,703.1" fill="none" stroke="#ff0000" stroke-width="3.40" stroke-linejoin="miter" stroke-linecap="butt" clip-path="url(#c3)"/>
<polyline points="229.7,975.2 233.2,750.5 255.6,911.8 278.0,917.5 300.4,929.1 322.9,936.8 345.3,941.8 367.7,940.6 390.1,941.4 412.6,934.2 435.0,933.6 457.4,935.8 479.9,937.3 502.3,935.8 524.7,932.0 547.2,931.4 569.6,931.0 592.0,930.3 614.5,929.6 636.9,929.6 659.3,928.6 681.8,923.9 704.2,919.2 726.6,915.5 749.1,913.9 771.5,912.4 793.9,903.6 816.4,896.4" fill="none" stroke="#0000ff" stroke-width="3.40" stroke-linejoin="miter" stroke-linecap="butt" stroke-dasharray="10.4 4.8" clip-path="url(#c4)"/>
<polyline points="254.9,700.2 255.7,731.2 278.0,790.0 300.4,845.6 322.9,877.2 345.3,906.2 367.7,904.2 390.1,909.5 412.6,909.7 435.0,899.7 457.4,894.4 479.9,896.9 502.3,894.1 524.7,892.5 547.2,887.8 569.6,882.4 592.0,877.4 614.5,871.6 636.9,866.0 659.3,858.8 681.8,855.7 704.2,854.4 726.6,847.2 749.1,840.3 771.5,833.7 793.9,828.4 816.4,821.2" fill="none" stroke="#0000ff" stroke-width="3.40" stroke-linejoin="miter" stroke-linecap="butt" clip-path="url(#c4)"/>
<polyline points="210.7,649.2 233.1,856.7 255.6,918.2 278.0,924.8 300.4,931.9 322.9,939.5 345.3,946.1 367.7,946.4 390.1,946.3 412.6,941.1 435.0,936.7 457.4,937.3 479.9,939.2 502.3,937.9 524.7,934.2 547.2,934.2 569.6,935.2 592.0,934.7 614.5,934.3 636.9,934.3 659.3,932.4 681.8,928.6 704.2,923.0 726.6,917.7 749.1,913.0 771.5,909.8 793.9,910.5 816.4,912.0" fill="none" stroke="#ff0000" stroke-width="3.40" stroke-linejoin="miter" stroke-linecap="butt" stroke-dasharray="10.4 4.8" clip-path="url(#c4)"/>
<polyline points="254.6,700.2 255.9,770.8 278.5,805.2 301.0,863.9 323.6,886.9 346.1,906.9 368.6,914.3 391.1,917.4 413.7,919.5 436.2,909.1 458.7,899.7 481.3,900.0 503.8,902.2 526.3,897.5 548.9,894.1 571.4,887.5 593.9,878.0 616.5,873.8 639.0,861.6 661.5,860.7 684.1,859.1 706.6,856.0 729.1,849.7 751.7,848.1 774.2,852.2 796.7,846.3 819.2,831.5" fill="none" stroke="#ff0000" stroke-width="3.40" stroke-linejoin="miter" stroke-linecap="butt" clip-path="url(#c4)"/>
<line x1="143.40" y1="-0.40" x2="143.40" y2="967.95" stroke="#000" stroke-width="2.45"/>
<line x1="816.35" y1="-0.40" x2="816.35" y2="967.95" stroke="#000" stroke-width="2.45"/>
<line x1="142.18" y1="1.00" x2="817.58" y2="1.00" stroke="#000" stroke-width="2.80"/>
<line x1="143.40" y1="242.50" x2="816.35" y2="242.50" stroke="#000" stroke-width="2.80"/>
<line x1="143.40" y1="483.85" x2="816.35" y2="483.85" stroke="#000" stroke-width="2.80"/>
<line x1="143.40" y1="725.15" x2="816.35" y2="725.15" stroke="#000" stroke-width="2.80"/>
<line x1="142.18" y1="966.55" x2="817.58" y2="966.55" stroke="#000" stroke-width="2.80"/>
<g transform="translate(92.00,249) scale(1.10,1)"><text font-size="24.5" font-weight="bold" stroke="#fff" stroke-width="0.45" vector-effect="non-scaling-stroke" textLength="33.09" lengthAdjust="spacing">0.0</text></g>
<g transform="translate(92.00,203) scale(1.10,1)"><text font-size="24.5" font-weight="bold" stroke="#fff" stroke-width="0.45" vector-effect="non-scaling-stroke" textLength="33.09" lengthAdjust="spacing">0.2</text></g>
<g transform="translate(92.00,157) scale(1.10,1)"><text font-size="24.5" font-weight="bold" stroke="#fff" stroke-width="0.45" vector-effect="non-scaling-stroke" textLength="33.09" lengthAdjust="spacing">0.4</text></g>
<g transform="translate(92.00,111) scale(1.10,1)"><text font-size="24.5" font-weight="bold" stroke="#fff" stroke-width="0.45" vector-effect="non-scaling-stroke" textLength="33.09" lengthAdjust="spacing">0.6</text></g>
<g transform="translate(92.00,65) scale(1.10,1)"><text font-size="24.5" font-weight="bold" stroke="#fff" stroke-width="0.45" vector-effect="non-scaling-stroke" textLength="33.09" lengthAdjust="spacing">0.8</text></g>
<g transform="translate(92.00,19) scale(1.10,1)"><text font-size="24.5" font-weight="bold" stroke="#fff" stroke-width="0.45" vector-effect="non-scaling-stroke" textLength="33.09" lengthAdjust="spacing">1.0</text></g>
<g transform="translate(63.90,478) scale(1.10,1)"><text font-size="24.5" font-weight="bold" stroke="#fff" stroke-width="0.45" vector-effect="non-scaling-stroke" textLength="58.64" lengthAdjust="spacing">0.000</text></g>
<g transform="translate(63.90,415) scale(1.10,1)"><text font-size="24.5" font-weight="bold" stroke="#fff" stroke-width="0.45" vector-effect="non-scaling-stroke" textLength="58.64" lengthAdjust="spacing">0.005</text></g>
<g transform="translate(63.90,351) scale(1.10,1)"><text font-size="24.5" font-weight="bold" stroke="#fff" stroke-width="0.45" vector-effect="non-scaling-stroke" textLength="58.64" lengthAdjust="spacing">0.010</text></g>
<g transform="translate(63.90,288) scale(1.10,1)"><text font-size="24.5" font-weight="bold" stroke="#fff" stroke-width="0.45" vector-effect="non-scaling-stroke" textLength="58.64" lengthAdjust="spacing">0.015</text></g>
<g transform="translate(92.00,732) scale(1.10,1)"><text font-size="24.5" font-weight="bold" stroke="#fff" stroke-width="0.45" vector-effect="non-scaling-stroke" textLength="33.09" lengthAdjust="spacing">0.0</text></g>
<g transform="translate(92.00,678) scale(1.10,1)"><text font-size="24.5" font-weight="bold" stroke="#fff" stroke-width="0.45" vector-effect="non-scaling-stroke" textLength="33.09" lengthAdjust="spacing">2.0</text></g>
<g transform="translate(92.00,625) scale(1.10,1)"><text font-size="24.5" font-weight="bold" stroke="#fff" stroke-width="0.45" vector-effect="non-scaling-stroke" textLength="33.09" lengthAdjust="spacing">4.0</text></g>
<g transform="translate(92.00,571) scale(1.10,1)"><text font-size="24.5" font-weight="bold" stroke="#fff" stroke-width="0.45" vector-effect="non-scaling-stroke" textLength="33.09" lengthAdjust="spacing">6.0</text></g>
<g transform="translate(92.00,518) scale(1.10,1)"><text font-size="24.5" font-weight="bold" stroke="#fff" stroke-width="0.45" vector-effect="non-scaling-stroke" textLength="33.09" lengthAdjust="spacing">8.0</text></g>
<g transform="translate(114.35,973) scale(1.10,1)"><text font-size="24.5" font-weight="bold" stroke="#fff" stroke-width="0.45" vector-effect="non-scaling-stroke" textLength="12.77" lengthAdjust="spacing">0</text></g>
<g transform="translate(86.25,923) scale(1.10,1)"><text font-size="24.5" font-weight="bold" stroke="#fff" stroke-width="0.45" vector-effect="non-scaling-stroke" textLength="38.32" lengthAdjust="spacing">500</text></g>
<g transform="translate(72.20,873) scale(1.10,1)"><text font-size="24.5" font-weight="bold" stroke="#fff" stroke-width="0.45" vector-effect="non-scaling-stroke" textLength="51.09" lengthAdjust="spacing">1000</text></g>
<g transform="translate(72.20,823) scale(1.10,1)"><text font-size="24.5" font-weight="bold" stroke="#fff" stroke-width="0.45" vector-effect="non-scaling-stroke" textLength="51.09" lengthAdjust="spacing">1500</text></g>
<g transform="translate(72.20,772) scale(1.10,1)"><text font-size="24.5" font-weight="bold" stroke="#fff" stroke-width="0.45" vector-effect="non-scaling-stroke" textLength="51.09" lengthAdjust="spacing">2000</text></g>
<g transform="translate(136.38,998) scale(1.10,1)"><text font-size="24.5" font-weight="bold" stroke="#fff" stroke-width="0.45" vector-effect="non-scaling-stroke" textLength="12.77" lengthAdjust="spacing">0</text></g>
<g transform="translate(248.53,998) scale(1.10,1)"><text font-size="24.5" font-weight="bold" stroke="#fff" stroke-width="0.45" vector-effect="non-scaling-stroke" textLength="12.77" lengthAdjust="spacing">5</text></g>
<g transform="translate(353.67,998) scale(1.10,1)"><text font-size="24.5" font-weight="bold" stroke="#fff" stroke-width="0.45" vector-effect="non-scaling-stroke" textLength="25.55" lengthAdjust="spacing">10</text></g>
<g transform="translate(465.82,998) scale(1.10,1)"><text font-size="24.5" font-weight="bold" stroke="#fff" stroke-width="0.45" vector-effect="non-scaling-stroke" textLength="25.55" lengthAdjust="spacing">15</text></g>
<g transform="translate(577.98,998) scale(1.10,1)"><text font-size="24.5" font-weight="bold" stroke="#fff" stroke-width="0.45" vector-effect="non-scaling-stroke" textLength="25.55" lengthAdjust="spacing">20</text></g>
<g transform="translate(690.14,998) scale(1.10,1)"><text font-size="24.5" font-weight="bold" stroke="#fff" stroke-width="0.45" vector-effect="non-scaling-stroke" textLength="25.55" lengthAdjust="spacing">25</text></g>
<g transform="translate(802.30,998) scale(1.10,1)"><text font-size="24.5" font-weight="bold" stroke="#fff" stroke-width="0.45" vector-effect="non-scaling-stroke" textLength="25.55" lengthAdjust="spacing">30</text></g>
<g transform="translate(49.00,182.20) rotate(-90)"><text transform="translate(0.30,-0.08) scale(0.3117,0.2650)" font-size="100" font-style="italic" font-weight="bold" fill="#000" stroke="#fff" stroke-width="0.35" vector-effect="non-scaling-stroke">K</text><g stroke="#000" stroke-width="1.20" stroke-linecap="round"><line x1="27.75" y1="-17.20" x2="27.75" y2="-10.40"/><line x1="24.62" y1="-15.61" x2="30.88" y2="-11.99"/><line x1="24.62" y1="-11.99" x2="30.88" y2="-15.61"/></g><text transform="translate(36.40,5.14) scale(0.4103,0.3707)" font-size="100" fill="#000" stroke="#000" stroke-width="0.50" vector-effect="non-scaling-stroke">/</text><text transform="translate(51.90,-0.08) scale(0.3103,0.2650)" font-size="100" font-style="italic" font-weight="bold" fill="#000" stroke="#fff" stroke-width="0.35" vector-effect="non-scaling-stroke">K</text><g stroke="#000" stroke-width="1.20" stroke-linecap="round"><line x1="79.30" y1="-17.20" x2="79.30" y2="-10.40"/><line x1="76.12" y1="-15.63" x2="82.48" y2="-11.97"/><line x1="76.12" y1="-11.97" x2="82.48" y2="-15.63"/></g><text transform="translate(87.57,-0.35) scale(0.2453,0.2724)" font-size="100" fill="#000" stroke="#000" stroke-width="0.60" vector-effect="non-scaling-stroke">(</text><text transform="translate(97.38,-0.48) scale(0.2808,0.2341)" font-size="100" fill="#000" stroke="#000" stroke-width="0.60" vector-effect="non-scaling-stroke">0</text><text transform="translate(112.95,-0.35) scale(0.2492,0.2724)" font-size="100" fill="#000" stroke="#000" stroke-width="0.60" vector-effect="non-scaling-stroke">)</text></g>
<g transform="translate(19.60,423.50) rotate(-90)"><rect x="0.3" y="-8.1" width="17.0" height="2.2" fill="#000"/><text transform="translate(19.30,-0.02) scale(0.3227,0.2523)" font-size="100" font-style="italic" font-weight="bold" fill="#000" stroke="#fff" stroke-width="0.35" vector-effect="non-scaling-stroke">d</text><text transform="translate(36.90,-0.08) scale(0.3034,0.2650)" font-size="100" font-style="italic" font-weight="bold" fill="#000" stroke="#fff" stroke-width="0.35" vector-effect="non-scaling-stroke">K</text><g stroke="#000" stroke-width="1.20" stroke-linecap="round"><line x1="63.00" y1="-17.10" x2="63.00" y2="-10.40"/><line x1="59.82" y1="-15.58" x2="66.18" y2="-11.92"/><line x1="59.82" y1="-11.92" x2="66.18" y2="-15.58"/></g><text transform="translate(73.50,5.14) scale(0.4103,0.3707)" font-size="100" fill="#000" stroke="#000" stroke-width="0.50" vector-effect="non-scaling-stroke">/</text><text transform="translate(87.10,-0.02) scale(0.3227,0.2523)" font-size="100" font-style="italic" font-weight="bold" fill="#000" stroke="#fff" stroke-width="0.35" vector-effect="non-scaling-stroke">d</text><text transform="translate(103.48,-0.06) scale(0.3285,0.2924)" font-size="100" font-style="italic" font-weight="bold" fill="#000" stroke="#fff" stroke-width="0.35" vector-effect="non-scaling-stroke">t</text><g stroke="#000" stroke-width="1.20" stroke-linecap="round"><line x1="118.05" y1="-17.10" x2="118.05" y2="-10.40"/><line x1="114.92" y1="-15.56" x2="121.18" y2="-11.94"/><line x1="114.92" y1="-11.94" x2="121.18" y2="-15.56"/></g></g>
<g transform="translate(48.90,618.90) rotate(-90)"><text transform="translate(-1.04,-0.10) scale(0.2518,0.2673)" font-size="100" font-weight="bold" fill="#000" stroke="#fff" stroke-width="0.30" vector-effect="non-scaling-stroke">Ω</text><g stroke="#000" stroke-width="1.20" stroke-linecap="round"><line x1="24.45" y1="-17.30" x2="24.45" y2="-10.30"/><line x1="21.22" y1="-15.66" x2="27.68" y2="-11.94"/><line x1="21.22" y1="-11.94" x2="27.68" y2="-15.66"/></g></g>
<g transform="translate(34.40,862.90) rotate(-90)"><text transform="translate(0.12,-0.08) scale(0.3276,0.2696)" font-size="100" font-style="italic" font-weight="bold" fill="#000" stroke="#fff" stroke-width="0.35" vector-effect="non-scaling-stroke">R</text><text transform="translate(20.74,0.08) scale(0.3125,0.2526)" font-size="100" font-style="italic" font-weight="bold" fill="#000" stroke="#fff" stroke-width="0.35" vector-effect="non-scaling-stroke">e</text></g>
<g transform="translate(0,1034.6)"><text transform="translate(468.97,-0.06) scale(0.3322,0.2924)" font-size="100" font-style="italic" font-weight="bold" fill="#000" stroke="#fff" stroke-width="0.35" vector-effect="non-scaling-stroke">t</text><g stroke="#000" stroke-width="1.20" stroke-linecap="round"><line x1="484.45" y1="-16.70" x2="484.45" y2="-10.30"/><line x1="481.02" y1="-15.48" x2="487.88" y2="-11.52"/><line x1="481.02" y1="-11.52" x2="487.88" y2="-15.48"/></g></g>
<line x1="479.7" y1="37.3" x2="566.3" y2="37.3" stroke="#0000ff" stroke-width="3.4" stroke-dasharray="10.4 4.8"/>
<g transform="translate(596.40,44) scale(1.10,1)"><text font-size="24.5" font-weight="bold" fill="#0000ff" stroke="#fff" stroke-width="0.45" vector-effect="non-scaling-stroke" textLength="24.73" lengthAdjust="spacing">64</text></g>
<g transform="translate(0,44)"><text transform="translate(624.27,-9.19) scale(0.1779,0.1660)" font-size="100" fill="#0000ff" stroke="#0000ff" stroke-width="0.55" vector-effect="non-scaling-stroke">3</text></g>
<g transform="translate(0,44)"><text transform="translate(642.26,-0.42) scale(0.2673,0.2507)" font-size="100" fill="#0000ff" stroke="#0000ff" stroke-width="0.35" vector-effect="non-scaling-stroke">A</text></g>
<text x="663.0" y="44" font-size="19" fill="#0000ff" stroke="#0000ff" stroke-width="0.35" textLength="73" lengthAdjust="spacingAndGlyphs">PSARA</text>
<line x1="479.7" y1="68.5" x2="566.3" y2="68.5" stroke="#0000ff" stroke-width="3.4"/>
<g transform="translate(582.80,75) scale(1.10,1)"><text font-size="24.5" font-weight="bold" fill="#0000ff" stroke="#fff" stroke-width="0.45" vector-effect="non-scaling-stroke" textLength="37.09" lengthAdjust="spacing">128</text></g>
<g transform="translate(0,75)"><text transform="translate(624.27,-9.19) scale(0.1779,0.1660)" font-size="100" fill="#0000ff" stroke="#0000ff" stroke-width="0.55" vector-effect="non-scaling-stroke">3</text></g>
<g transform="translate(0,75)"><text transform="translate(642.26,-0.42) scale(0.2673,0.2507)" font-size="100" fill="#0000ff" stroke="#0000ff" stroke-width="0.35" vector-effect="non-scaling-stroke">A</text></g>
<text x="663.0" y="75" font-size="19" fill="#0000ff" stroke="#0000ff" stroke-width="0.35" textLength="73" lengthAdjust="spacingAndGlyphs">PSARA</text>
<line x1="479.7" y1="99.9" x2="566.3" y2="99.9" stroke="#ff0000" stroke-width="3.4" stroke-dasharray="10.4 4.8"/>
<g transform="translate(596.40,107) scale(1.10,1)"><text font-size="24.5" font-weight="bold" fill="#ff0000" stroke="#fff" stroke-width="0.45" vector-effect="non-scaling-stroke" textLength="24.73" lengthAdjust="spacing">64</text></g>
<g transform="translate(0,107)"><text transform="translate(624.27,-9.19) scale(0.1779,0.1660)" font-size="100" fill="#ff0000" stroke="#ff0000" stroke-width="0.55" vector-effect="non-scaling-stroke">3</text></g>
<g transform="translate(0,107)"><text transform="translate(641.58,-0.42) scale(0.3273,0.2497)" font-size="100" fill="#ff0000" stroke="#ff0000" stroke-width="0.35" vector-effect="non-scaling-stroke">P</text></g>
<text x="660.0" y="107" font-size="19" fill="#ff0000" stroke="#ff0000" stroke-width="0.35" textLength="139" lengthAdjust="spacingAndGlyphs">ROMETHEUS</text>
<line x1="479.7" y1="131.2" x2="566.3" y2="131.2" stroke="#ff0000" stroke-width="3.4"/>
<g transform="translate(582.80,138) scale(1.10,1)"><text font-size="24.5" font-weight="bold" fill="#ff0000" stroke="#fff" stroke-width="0.45" vector-effect="non-scaling-stroke" textLength="37.09" lengthAdjust="spacing">128</text></g>
<g transform="translate(0,138)"><text transform="translate(624.27,-9.19) scale(0.1779,0.1660)" font-size="100" fill="#ff0000" stroke="#ff0000" stroke-width="0.55" vector-effect="non-scaling-stroke">3</text></g>
<g transform="translate(0,138)"><text transform="translate(641.58,-0.42) scale(0.3273,0.2497)" font-size="100" fill="#ff0000" stroke="#ff0000" stroke-width="0.35" vector-effect="non-scaling-stroke">P</text></g>
<text x="660.0" y="138" font-size="19" fill="#ff0000" stroke="#ff0000" stroke-width="0.35" textLength="139" lengthAdjust="spacingAndGlyphs">ROMETHEUS</text>
</svg></body></html>
